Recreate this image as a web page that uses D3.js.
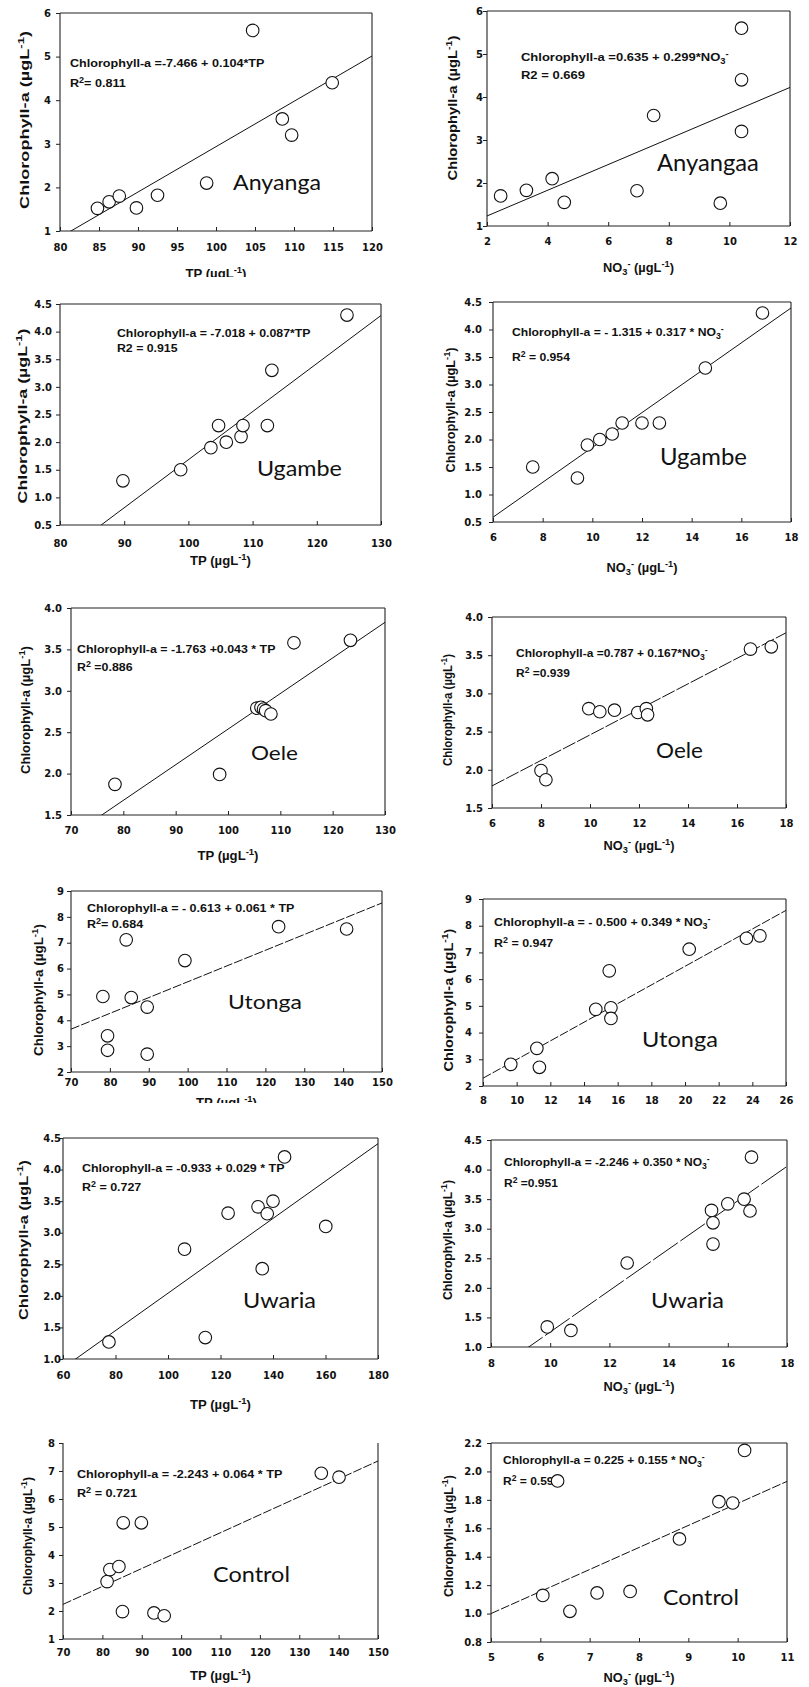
<!DOCTYPE html>
<html>
<head>
<meta charset="utf-8">
<script src="https://cdn.jsdelivr.net/npm/d3@7"></script>
<style>
body{margin:0;background:#fff;}
svg text{white-space:pre;}
</style>
</head>
<body>
<svg id="chart" width="809" height="1687"></svg>
<script>
// ---- data ----
var sites    = ["Anyanga","Ugambe","Oele","Utonga","Uwaria","Control"];
var no3Sites = ["Anyangaa","Ugambe","Oele","Utonga","Uwaria","Control"];

// TP (µg/L) vs chlorophyll-a
var tpX = [
  [84.8,86.3,87.6,89.8,92.5,98.8,104.7,108.5,109.7,114.9],
  [89.8,98.8,103.5,104.7,105.9,108.2,108.5,112.3,113.0,124.7],
  [78.4,98.4,105.5,106.3,106.8,107.2,108.2,112.6,123.4],
  [78.2,79.4,79.4,84.2,85.5,89.6,89.6,99.3,123.4,140.9],
  [77.5,106.3,114.2,122.9,134.3,135.9,137.8,140.0,144.4,160.1],
  [81.2,81.9,84.2,85.1,85.3,89.9,93.1,95.7,135.6,140.1]
];
var tpChl = [
  [1.52,1.67,1.80,1.53,1.82,2.10,5.60,3.57,3.20,4.40],
  [1.30,1.50,1.90,2.30,2.00,2.10,2.30,2.30,3.30,4.30],
  [1.87,1.99,2.79,2.80,2.78,2.76,2.72,3.58,3.61],
  [4.92,3.40,2.84,7.11,4.88,4.51,2.69,6.31,7.62,7.53],
  [1.27,2.74,1.34,3.31,3.41,2.43,3.30,3.50,4.20,3.10],
  [3.05,3.48,3.59,1.98,5.15,5.15,1.93,1.83,6.92,6.78]
];
// NO3- (µg/L) vs chlorophyll-a
var no3X = [
  [2.45,3.3,4.15,4.55,6.95,7.5,9.7,10.4,10.4,10.4],
  [7.6,9.4,9.8,10.3,10.8,11.2,12.0,12.7,14.55,16.85],
  [8.0,8.2,9.95,10.4,11.0,11.95,12.3,12.35,16.55,17.4],
  [9.65,11.2,11.35,14.7,15.5,15.6,15.6,20.25,23.65,24.45],
  [9.9,10.7,12.6,15.45,15.5,15.5,16.0,16.55,16.75,16.8],
  [6.05,6.35,6.6,7.15,7.82,8.82,9.62,9.9,10.14]
];
var no3Chl = [
  [1.70,1.83,2.10,1.55,1.82,3.57,1.53,5.60,4.40,3.20],
  [1.50,1.30,1.90,2.00,2.10,2.30,2.30,2.30,3.30,4.30],
  [1.99,1.87,2.80,2.76,2.78,2.75,2.80,2.72,3.58,3.61],
  [2.81,3.41,2.70,4.87,6.31,4.93,4.53,7.12,7.53,7.62],
  [1.34,1.28,2.42,3.31,3.10,2.74,3.42,3.50,3.30,4.21],
  [1.128,1.933,1.016,1.145,1.156,1.525,1.787,1.778,2.148]
];

// regression lines [intercept, slope]
var tpFit  = [[-7.466,0.104],[-7.018,0.087],[-1.763,0.043],[-0.613,0.061],[-0.918,0.0296],[-2.243,0.064]];
var no3Fit = [[0.635,0.299],[-1.315,0.317],[0.787,0.167],[-0.500,0.349],[-2.246,0.350],[0.225,0.155]];

var tpEq = [
  "Chlorophyll-a =-7.466 + 0.104*TP",
  "Chlorophyll-a = -7.018 + 0.087*TP",
  "Chlorophyll-a = -1.763 +0.043 * TP",
  "Chlorophyll-a = - 0.613 + 0.061 * TP",
  "Chlorophyll-a = -0.933 + 0.029 * TP",
  "Chlorophyll-a = -2.243 + 0.064 * TP"
];
var tpR2 = ["R^{2}= 0.811","R2 = 0.915","R^{2} =0.886","R^{2}= 0.684","R^{2} = 0.727","R^{2} = 0.721"];
var no3Eq = [
  "Chlorophyll-a =0.635 + 0.299*NO_{3}^{-}",
  "Chlorophyll-a = - 1.315 + 0.317 * NO_{3}^{-}",
  "Chlorophyll-a =0.787 + 0.167*NO_{3}^{-}",
  "Chlorophyll-a = - 0.500 + 0.349 * NO_{3}^{-}",
  "Chlorophyll-a = -2.246 + 0.350 * NO_{3}^{-}",
  "Chlorophyll-a = 0.225 + 0.155 * NO_{3}^{-}"
];
var no3R2 = ["R2 = 0.669","R^{2} = 0.954","R^{2} =0.939","R^{2} = 0.947","R^{2} =0.951","R^{2} = 0.59"];

// axes: domains and tick labels
var tpXDom = [[80,120],[80,130],[70,130],[70,150],[60,180],[70,150]];
var tpYDom = [[1,6],[0.5,4.5],[1.5,4.0],[2,9],[1.0,4.5],[1,8]];
var tpXTicks = [
  ["80","85","90","95","100","105","110","115","120"],
  ["80","90","100","110","120","130"],
  ["70","80","90","100","110","120","130"],
  ["70","80","90","100","110","120","130","140","150"],
  ["60","80","100","120","140","160","180"],
  ["70","80","90","100","110","120","130","140","150"]
];
var tpYTicks = [
  ["1","2","3","4","5","6"],
  ["0.5","1.0","1.5","2.0","2.5","3.0","3.5","4.0","4.5"],
  ["1.5","2.0","2.5","3.0","3.5","4.0"],
  ["2","3","4","5","6","7","8","9"],
  ["1.0","1.5","2.0","2.5","3.0","3.5","4.0","4.5"],
  ["1","2","3","4","5","6","7","8"]
];
var no3XDom = [[2,12],[6,18],[6,18],[8,26],[8,18],[5,11]];
var no3YDom = [[1,6],[0.5,4.5],[1.5,4.0],[2,9],[1.0,4.5],[0.8,2.2]];
var no3XTicks = [
  ["2","4","6","8","10","12"],
  ["6","8","10","12","14","16","18"],
  ["6","8","10","12","14","16","18"],
  ["8","10","12","14","16","18","20","22","24","26"],
  ["8","10","12","14","16","18"],
  ["5","6","7","8","9","10","11"]
];
var no3YTicks = [
  ["1","2","3","4","5","6"],
  ["0.5","1.0","1.5","2.0","2.5","3.0","3.5","4.0","4.5"],
  ["1.5","2.0","2.5","3.0","3.5","4.0"],
  ["2","3","4","5","6","7","8","9"],
  ["1.0","1.5","2.0","2.5","3.0","3.5","4.0","4.5"],
  ["0.8","1.0","1.2","1.4","1.6","1.8","2.0","2.2"]
];

// ---- layout of each panel (pixels) ----
// f: frame [left, top, right, bottom]
var tpLay = [
  {f:[60,13,372,231],  cover:0,    yt:[29,120,178], xtY:278,  xlb:251,  ylr:51, eq:[70,67,195],  r2:87,   site:[233,190,21,88], dash:null},
  {f:[60,304,381,525], cover:277,  yt:[27,416,175], xtY:565,  xlb:547,  ylr:52, eq:[117,337,194], r2:352, site:[257,476,21,85], dash:null},
  {f:[71,608,385,815], cover:575,  yt:[30,710,128], xtY:860,  xlb:834,  ylr:62, eq:[77,653,199],  r2:671,  site:[251,760,20,47], dash:null},
  {f:[71,891,382,1072],cover:868,  yt:[43,990,132], xtY:1107, xlb:1086, ylr:64, eq:[87,912,208],  r2:928,  site:[228,1009,19,74], dash:"9,2"},
  {f:[63,1138,378,1359],cover:1103,yt:[28,1240,160],xtY:1409, xlb:1379, ylr:61, eq:[82,1172,203], r2:1191, site:[243,1308,22,73], dash:null},
  {f:[63,1443,378,1639],cover:1418,yt:[32,1536,118],xtY:1680, xlb:1656, ylr:55, eq:[77,1478,206], r2:1497, site:[213,1582,22,77], dash:"9,2", noTop:true}
];
var no3Lay = [
  {f:[487,11,790,226],  cover:0,    yt:[457,108,145], xtY:272,  xlb:245,  ylr:483, eq:[521,61,208],  r2:79,   site:[657,171,23,102], dash:null},
  {f:[493,302,791,522], cover:281,  yt:[455,410,125], xtY:572,  xlb:541,  ylr:482, eq:[512,336,212],  r2:361,  site:[660,465,23,87], dash:null},
  {f:[492,617,786,808], cover:575,  yt:[452,710,112], xtY:850,  xlb:827,  ylr:483, eq:[516,657,192],  r2:677,  site:[656,758,21,47], dash:"14,2"},
  {f:[483,899,786,1086],cover:868,  yt:[453,1000,143],xtY:1130, xlb:1104, ylr:472, eq:[494,926,217],  r2:947,  site:[642,1047,21,76], dash:"9,2"},
  {f:[491,1140,787,1347],cover:1108,yt:[452,1240,120],xtY:1391, xlb:1367, ylr:482, eq:[504,1166,206], r2:1187, site:[651,1308,21,73], dash:"30,3"},
  {f:[491,1443,787,1642],cover:1398,yt:[453,1536,122],xtY:1682, xlb:1661, ylr:482, eq:[503,1464,202], r2:1485, site:[663,1605,21,76], dash:"9,2"}
];

var svg = d3.select("#chart");
svg.append("rect").attr("width",809).attr("height",1687).attr("fill","#fff");

// text with ^{..} and _{..} parts
function rich(sel, str, fs){
  var parts = str.split(/(\^\{[^}]*\}|_\{[^}]*\})/).filter(function(s){return s.length;});
  var shift = 0;
  parts.forEach(function(p){
    var t = p, target = 0, size = fs;
    if (p.indexOf("^{")==0){ t = p.slice(2,-1); target = -0.38*fs; size = 0.72*fs; }
    else if (p.indexOf("_{")==0){ t = p.slice(2,-1); target = 0.22*fs; size = 0.72*fs; }
    sel.append("tspan").attr("dy", target-shift).attr("font-size", size).text(t);
    shift = target;
  });
  return sel;
}
// stretch a text horizontally about x0 to a given width
function fitX(sel, x0, w, k){
  if (k==null) k = w / sel.node().getBBox().width;
  sel.attr("transform","translate("+x0+",0) scale("+k+",1) translate("+(-x0)+",0)");
  return k;
}

var clipId = 0;
function panel(L, col, xs, ys, fit, xDom, yDom, xTicks, yTicks, eq, r2, site, xTitle){
  var f = L.f;
  var g = svg.append("g");
  g.append("rect").attr("x",col[0]).attr("y",L.cover).attr("width",col[1]-col[0])
    .attr("height",1687-L.cover).attr("fill","#fff");

  var x = d3.scaleLinear().domain(xDom).range([f[0],f[2]]);
  var y = d3.scaleLinear().domain(yDom).range([f[3],f[1]]);

  var ax = g.append("g").attr("transform","translate(0,"+f[3]+")")
    .call(d3.axisBottom(x).tickValues(xTicks.map(Number))
      .tickFormat(function(d,i){return xTicks[i];})
      .tickSizeInner(-4).tickSizeOuter(0).tickPadding(L.xlb-f[3]-7));
  var ay = g.append("g").attr("transform","translate("+f[0]+",0)")
    .call(d3.axisLeft(y).tickValues(yTicks.map(Number))
      .tickFormat(function(d,i){return yTicks[i];})
      .tickSizeInner(4).tickSizeOuter(0).tickPadding(f[0]-L.ylr-4));
  [ax,ay].forEach(function(a){
    a.select(".domain").remove();
    a.selectAll("line").attr("stroke","#222");
    a.selectAll("text").attr("font-family","DejaVu Sans").attr("font-weight","bold")
      .attr("font-size",10).attr("fill","#111");
  });

  // frame
  var fr = [[f[0],f[1],f[0],f[3]],[f[0],f[3],f[2],f[3]],[f[2],f[1],f[2],f[3]]];
  if (!L.noTop) fr.push([f[0],f[1],f[2],f[1]]);
  g.selectAll("line.fr").data(fr).enter().append("line").attr("class","fr")
    .attr("x1",function(d){return d[0];}).attr("y1",function(d){return d[1];})
    .attr("x2",function(d){return d[2];}).attr("y2",function(d){return d[3];})
    .attr("stroke","#222").attr("stroke-width",1.1);

  // regression line
  clipId++;
  g.append("clipPath").attr("id","c"+clipId).append("rect")
    .attr("x",f[0]).attr("y",f[1]).attr("width",f[2]-f[0]).attr("height",f[3]-f[1]);
  g.append("path").datum(xDom)
    .attr("clip-path","url(#c"+clipId+")")
    .attr("d", d3.line().x(function(d){return x(d);}).y(function(d){return y(fit[0]+fit[1]*d);}))
    .attr("fill","none").attr("stroke","#111").attr("stroke-width",1)
    .attr("stroke-dasharray", L.dash);

  // equation and R2
  var te = rich(g.append("text").attr("x",L.eq[0]).attr("y",L.eq[1])
    .attr("font-family","Liberation Sans").attr("font-weight","bold").attr("font-size",11.5)
    .attr("fill","#111"), eq, 11.5);
  var k = fitX(te, L.eq[0], L.eq[2]);
  var tr = rich(g.append("text").attr("x",L.eq[0]).attr("y",L.r2)
    .attr("font-family","Liberation Sans").attr("font-weight","bold").attr("font-size",11.5)
    .attr("fill","#111"), r2, 11.5);
  fitX(tr, L.eq[0], 0, k);

  // site name
  var ts = g.append("text").attr("x",L.site[0]).attr("y",L.site[1])
    .attr("font-family","Lato").attr("font-size",L.site[2]).attr("fill","#111").text(site);
  fitX(ts, L.site[0], L.site[3]);

  // axis titles
  var cx = (f[0]+f[2])/2;
  var tx = rich(g.append("text").attr("x",cx).attr("y",L.xtY).attr("text-anchor","middle")
    .attr("font-family","Liberation Sans").attr("font-weight","bold").attr("font-size",13)
    .attr("fill","#111"), xTitle.text, 13);
  fitX(tx, cx, xTitle.w);
  var yg = g.append("g").attr("transform","translate("+L.yt[0]+","+L.yt[1]+") rotate(-90)");
  var ty = rich(yg.append("text").attr("text-anchor","middle").attr("dy","0.35em")
    .attr("font-family","Liberation Sans").attr("font-weight","bold").attr("font-size",13)
    .attr("fill","#111"), "Chlorophyll-a (µgL^{-1})", 13);
  ty.attr("transform","scale("+(L.yt[2]/ty.node().getBBox().width)+",1)");

  // points
  g.selectAll("circle").data(xs).enter().append("circle")
    .attr("cx",function(d){return x(d);})
    .attr("cy",function(d,i){return y(ys[i]);})
    .attr("r",6.3).attr("fill","#fff").attr("stroke","#111").attr("stroke-width",1.1);
}

var tpTitle  = {text:"TP (µgL^{-1})", w:61};
var no3Title = {text:"NO_{3}^{-} (µgL^{-1})", w:71};

for (var i = 0; i < sites.length; i++){
  panel(tpLay[i], [0,400], tpX[i], tpChl[i], tpFit[i], tpXDom[i], tpYDom[i],
        tpXTicks[i], tpYTicks[i], tpEq[i], tpR2[i], sites[i], tpTitle);
  panel(no3Lay[i], [400,809], no3X[i], no3Chl[i], no3Fit[i], no3XDom[i], no3YDom[i],
        no3XTicks[i], no3YTicks[i], no3Eq[i], no3R2[i], no3Sites[i], no3Title);
}
</script>
</body>
</html>
